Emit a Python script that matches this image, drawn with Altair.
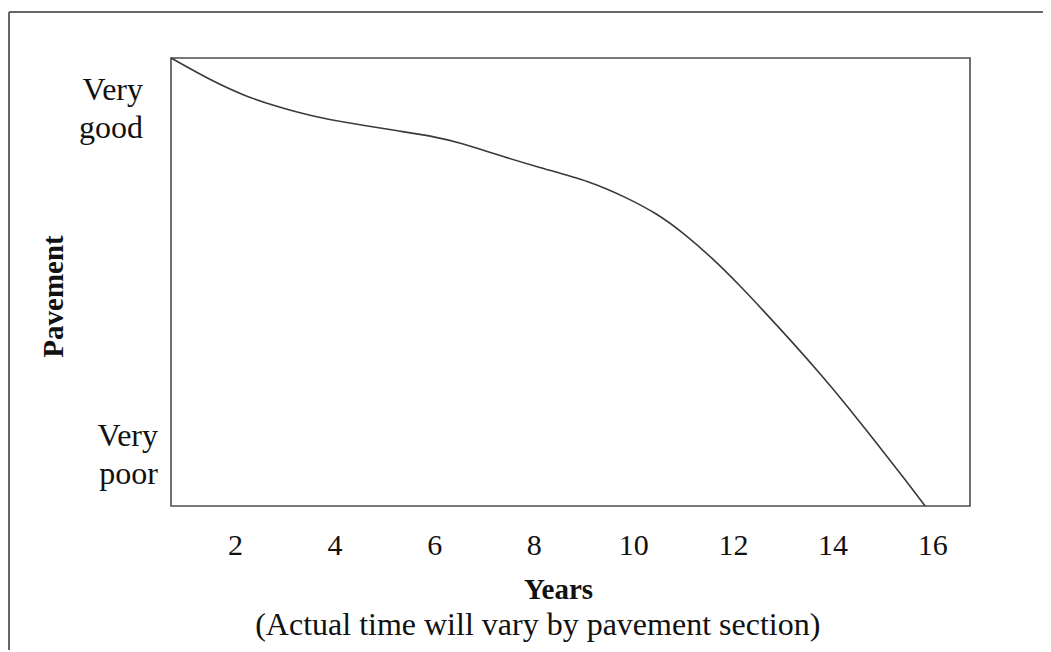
import altair as alt
import pandas as pd

# Curve
years = [0.715, 1.53, 2.20, 2.80, 3.54, 4.34, 5.28, 5.95, 6.58, 7.12, 8.12, 9.13,
         9.87, 10.47, 11.00, 11.57, 12.14, 12.61, 13.15, 13.81, 14.28, 14.95, 15.49, 15.86]
condition = [100, 94.9, 91.5, 89.3, 87.0, 85.4, 83.7, 82.6, 80.9, 78.9, 75.5, 72.5,
             68.8, 65.3, 61.0, 55.5, 49.2, 43.6, 37.1, 28.8, 22.5, 13.1, 5.4, 0]

x_ticks = [2, 4, 6, 8, 10, 12, 14, 16]
x_domain = [0.715, 16.76]
y_domain = [0, 100]

cond_labels = ["Very\ngood", "Very\npoor"]
cond_label_x = [0.153, 0.454]
cond_label_y = [90.7, 13.4]

note_text = ["(Actual time will vary by pavement section)"]
note_x = [8.08]
note_y = [-28.8]

FONT = "Liberation Serif"
FS_BOLD = 29
FS_TEXT = 32
FS_TICK = 30

curve = pd.DataFrame({"Years": years, "Condition": condition})
labels_df = pd.DataFrame({"label": cond_labels, "lx": cond_label_x, "ly": cond_label_y})
note_df = pd.DataFrame({"label": note_text, "lx": note_x, "ly": note_y})

xs = alt.Scale(domain=x_domain, nice=False, zero=False)
ys = alt.Scale(domain=y_domain, nice=False, zero=False)

line = alt.Chart(curve).mark_line(
    color="#3a3a3a", strokeWidth=1.6, interpolate="basis", clip=False
).encode(
    x=alt.X("Years:Q", scale=xs,
            axis=alt.Axis(values=x_ticks, ticks=False, tickSize=0, domain=False, grid=False,
                          labelFont=FONT, labelFontSize=FS_TICK, labelColor="#111",
                          labelPadding=24, labelFlush=False,
                          title="Years", titleFont=FONT, titleFontSize=FS_BOLD,
                          titleFontWeight="bold", titleColor="#111",
                          titleX=387, titleY=92, titleAlign="center",
                          titleBaseline="alphabetic")),
    y=alt.Y("Condition:Q", scale=ys,
            axis=alt.Axis(labels=False, ticks=False, domain=False, grid=False,
                          title="Pavement", titleFont=FONT, titleFontSize=FS_BOLD,
                          titleFontWeight="bold", titleColor="#111",
                          titleAngle=270, titleX=-118, titleY=238,
                          titleAlign="center", titleBaseline="middle")),
)

cond_text = alt.Chart(labels_df).mark_text(
    font=FONT, fontSize=FS_TEXT, align="right", baseline="alphabetic",
    lineBreak="\n", lineHeight=38, color="#111"
).encode(
    x=alt.X("lx:Q", scale=xs),
    y=alt.Y("ly:Q", scale=ys),
    text="label:N",
)

note = alt.Chart(note_df).mark_text(
    font=FONT, fontSize=FS_TEXT, align="center", baseline="alphabetic", color="#111"
).encode(
    x=alt.X("lx:Q", scale=xs),
    y=alt.Y("ly:Q", scale=ys),
    text="label:N",
)

# outer picture frame (decoration)
border_top = alt.Chart(curve).mark_rule(color="#666", strokeWidth=2).encode(
    x=alt.value(-162), x2=alt.value(880), y=alt.value(-46)
)
border_left = alt.Chart(curve).mark_rule(color="#666", strokeWidth=2).encode(
    x=alt.value(-162), y=alt.value(-46), y2=alt.value(650)
)

chart = alt.layer(border_top, border_left, line, cond_text, note).properties(
    width=799, height=448,
    autosize=alt.AutoSizeParams(type="none"),
    padding={"left": 163, "top": 50, "right": 73, "bottom": 144},
    background="white",
).configure_view(
    stroke="#4d4d4d", strokeWidth=1.6
)

chart.save("out.html", embed_options={"renderer": "svg", "actions": False})
